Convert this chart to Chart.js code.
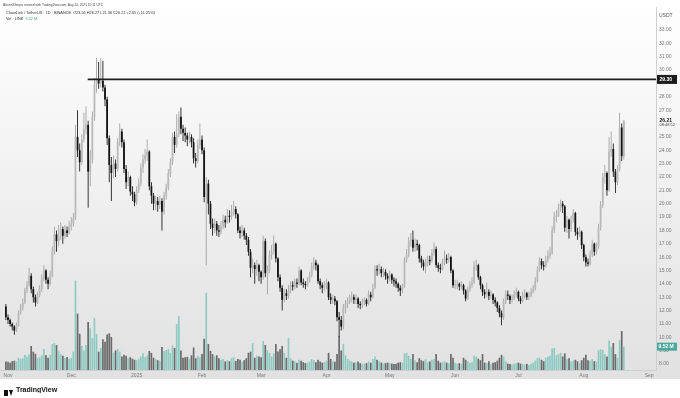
<!DOCTYPE html>
<html>
<head>
<meta charset="utf-8">
<script src="https://cdn.jsdelivr.net/npm/chart.js@4.4.1/dist/chart.umd.min.js"></script>
<style>
html,body{margin:0;padding:0;background:#fff;}
#wrap{position:relative;width:680px;height:398px;overflow:hidden;}
#c{position:absolute;left:0;top:0;}
.t{position:absolute;white-space:nowrap;font-family:"Liberation Sans",Arial,sans-serif;transform-origin:0 0;z-index:2;line-height:1.15;}
.logo{position:absolute;left:4px;top:385px;z-index:2;display:flex;align-items:center;}
.mk1{width:4px;height:6px;background:#111;margin-right:1px;}
.mk2{width:0;height:0;border-left:2.5px solid transparent;border-right:2.5px solid transparent;border-top:6px solid #111;margin-right:3px;}
</style>
</head>
<body>
<div id="wrap">
<canvas id="c" width="680" height="398"></canvas>
<div class="t" style="left:3px;top:2.6px;font-size:8px;transform:scale(0.4);color:#444;">AltcoinSherpa created with TradingView.com, Aug 20, 2025 15:11 UTC</div>
<div class="t" style="left:6px;top:11.4px;font-size:8px;transform:scale(0.48);color:#333;">ChainLink / TetherUS · 1D · BINANCE &nbsp;O23.56 H26.27 L21.36 C26.21 +2.65 (+11.25%)</div>
<div class="t" style="left:6px;top:16.9px;font-size:8px;transform:scale(0.48);color:#333;">Vol · LINK &nbsp;<span style="color:#3f9e93">9.52 M</span></div>
<div class="t" style="left:659px;top:12px;font-size:10px;transform:scale(0.5);color:#555;">USDT</div>
<div class="logo"><div class="mk1"></div><div class="mk2"></div><div class="t" style="position:relative;font-size:14px;transform:scale(0.5);font-weight:bold;color:#111;">TradingView</div></div>
</div>
<script>
// ---- data (daily candles, LINK/USDT) ----
const firstDay = -1;            // day index of first candle (Nov 1 2024 = 0)
const firstOpen = 12.3;
const closes = [
 11.5,
 11.3,11.0,10.8,10.5,10.9,11.8,12.2,12.6,13.5,13.9, 14.6,13.6,13.0,12.6,13.1,13.6,14.4,15.0,14.3,14.0, 14.6,16.4,17.7,17.2,17.6,18.1,17.6,18.0,17.8,18.3,
 18.5,18.9,25.0,24.0,23.1,24.8,25.6,25.9,22.4,23.3, 26.5,28.9,29.3,29.0,29.2,28.7,27.8,24.9,22.9,22.3, 23.0,22.6,24.6,25.4,24.6,22.6,21.6,22.0,20.9,20.7, 20.1,
 21.0,21.5,22.7,23.3,23.6,23.9,21.3,20.6,20.0,20.2, 19.9,20.2,19.4,20.6,21.2,22.3,23.1,25.0,24.4,25.2, 26.5,25.6,25.3,25.1,24.8,25.0,24.6,23.4,23.2,24.4, 24.8,
 24.0,20.5,21.5,20.0,18.5,18.2,18.5,18.0,17.9,18.3, 18.8,18.6,19.1,19.0,19.4,19.6,19.2,18.0,17.8,18.0, 17.6,17.3,16.4,15.2,15.4,15.1,15.4,14.9,
 14.5,17.2,14.8,15.0,16.2,16.4,17.0,15.9,14.5,13.7, 12.8,13.3,13.1,13.5,13.9,13.8,14.1,14.0,15.0,14.1, 14.0,13.9,14.2,14.6,15.3,15.6,15.4,14.2,13.9,13.7, 13.9,
 14.1,13.0,12.8,12.9,12.7,11.5,11.3,10.8,12.2,12.5, 12.7,12.9,13.0,12.8,12.9,12.5,12.4,12.6,12.8,12.5, 13.2,13.0,13.7,15.1,15.0,15.1,14.8,14.9,14.6,14.4,
 14.7,14.3,14.2,14.0,13.7,13.5,13.8,15.8,16.2,17.2, 17.3,16.7,17.0,16.9,15.9,15.6,15.3,15.6,15.8,15.7, 16.3,16.6,15.4,15.2,15.1,15.6,15.9,15.8,16.0,15.0, 13.9,
 13.9,14.0,13.8,13.9,13.5,12.9,13.6,13.9,14.1,15.3, 15.4,14.5,13.9,13.4,13.2,13.4,13.1,13.2,12.8,12.6, 12.2,11.8,11.5,12.7,13.2,13.1,12.8,12.9,13.2,13.4,
 12.9,12.7,13.1,13.3,13.0,13.1,13.4,13.6,14.2,15.0, 15.7,15.4,15.3,15.8,16.1,16.3,18.0,19.0,19.1,19.7, 20.0,19.8,18.2,18.8,18.1,18.8,19.3,17.9,17.7,17.9, 16.9,
 16.0,15.6,15.5,16.2,17.0,16.4,16.8,18.2,19.9,22.0, 22.3,21.0,23.9,24.1,22.4,21.6,22.6,25.7,23.56,26.21
];
const highs = [
 12.5,
 11.7,11.4,11.1,10.9,11.1,12.0,12.5,12.9,13.7,14.2, 15.2,14.8,13.8,13.2,13.4,13.9,14.7,15.4,15.1,14.5, 15.0,16.8,18.3,18.0,18.4,18.6,18.3,18.4,18.3,18.7,
 19.0,19.3,25.9,27.0,24.5,25.2,26.8,27.3,26.2,24.0, 26.9,29.4,30.9,30.6,30.9,30.7,28.9,28.0,25.1,23.5, 23.6,23.3,24.9,26.0,25.6,24.8,22.9,22.4,22.1,21.3, 20.9,
 21.3,21.9,23.0,23.7,24.1,24.8,24.0,21.6,20.8,20.6, 20.5,20.6,20.4,20.9,21.5,22.6,23.4,25.3,25.4,26.7, 26.9,27.2,25.9,25.7,25.3,25.4,25.2,24.9,23.8,24.8, 26.0,
 25.1,24.2,22.0,21.8,20.2,18.9,18.9,18.7,18.4,18.7, 19.2,19.1,19.6,19.5,19.9,20.2,19.8,19.3,18.3,18.4, 18.2,17.8,17.5,16.6,15.9,15.6,15.8,15.5,
 15.0,17.6,17.4,15.4,16.5,16.9,17.6,17.1,16.0,14.7, 13.9,13.6,13.6,13.9,14.2,14.2,14.4,14.4,15.3,15.1, 14.4,14.2,14.5,14.9,15.6,16.0,15.8,15.5,14.4,14.1, 14.2,
 14.4,14.2,13.3,13.2,13.1,12.8,11.9,11.6,12.5,12.8, 13.0,13.2,13.4,13.2,13.2,13.0,12.7,12.9,13.0,12.9, 13.5,13.4,14.0,15.4,15.4,15.5,15.3,15.2,15.1,14.8,
 15.0,14.8,14.5,14.4,14.1,13.9,14.0,16.0,16.6,17.5, 17.8,18.0,17.4,17.3,17.0,16.1,15.8,15.9,16.1,16.1, 16.6,17.1,16.8,15.6,15.5,15.9,16.5,16.2,16.3,16.1, 15.1,
 14.3,14.3,14.1,14.2,14.0,13.6,13.8,14.2,14.5,15.7, 15.8,15.5,14.6,14.0,13.6,14.1,13.6,13.5,13.3,13.0, 12.7,12.4,12.0,12.9,13.5,13.5,13.2,13.2,13.5,13.7,
 13.5,13.1,13.4,13.6,13.4,13.4,13.7,13.9,14.5,15.3, 16.0,15.9,15.7,16.1,16.5,16.8,18.3,19.4,19.5,20.0, 20.3,20.2,19.9,19.1,18.9,19.1,19.6,19.4,18.2,18.3, 18.0,
 17.0,16.2,15.9,16.5,17.3,17.1,17.1,18.5,20.2,22.3, 22.9,22.4,25.0,25.4,24.5,22.6,22.9,26.8,26.0,26.27
];
const lows = [
 11.3,
 11.0,10.8,10.5,10.2,10.4,10.8,11.7,12.0,12.5,13.3, 13.8,13.3,12.6,12.3,12.5,13.0,13.4,14.2,14.0,13.6, 13.9,14.5,16.2,16.4,16.8,17.3,17.0,17.4,17.5,17.7,
 18.0,18.3,18.8,23.5,22.4,22.9,24.6,25.2,19.7,21.3, 23.0,26.2,28.3,28.6,28.7,28.4,27.3,24.4,21.6,20.2, 21.9,22.0,22.4,24.3,24.2,22.3,21.1,21.3,20.6,20.2, 19.8,
 19.9,20.8,21.3,22.3,23.0,23.2,21.0,20.0,19.5,19.5, 19.4,19.6,18.0,19.2,20.3,21.0,22.0,22.9,23.8,24.2, 25.0,25.2,24.7,24.6,24.3,24.5,24.2,23.0,22.7,23.0, 24.1,
 23.7,20.1,15.4,19.2,18.1,17.6,17.8,17.6,17.5,17.7, 18.1,18.2,18.5,18.6,18.8,19.1,18.9,17.8,17.4,17.5, 17.3,16.9,16.1,14.5,14.8,14.0,14.6,14.2,
 14.0,14.3,14.5,13.2,14.8,15.8,16.2,15.6,14.2,13.4, 12.0,12.6,12.8,12.9,13.3,13.5,13.6,13.7,13.9,13.9, 13.7,13.6,13.8,14.1,14.5,15.1,15.0,14.0,13.6,13.3, 13.5,
 13.6,12.8,12.5,12.5,12.4,11.2,10.0,10.5,10.6,11.8, 12.2,12.5,12.6,12.5,12.5,12.2,12.1,12.2,12.4,12.3, 12.4,12.7,12.9,13.6,14.6,14.7,14.5,14.5,14.3,14.0,
 14.2,14.0,13.8,13.7,13.4,13.1,13.3,13.7,15.6,16.0, 16.8,16.4,16.4,16.5,15.6,15.2,15.0,14.8,15.3,15.4, 15.6,16.1,15.2,14.9,14.8,15.0,15.4,15.5,15.6,14.8, 13.7,
 13.6,13.6,13.5,13.6,13.2,12.7,12.8,13.4,13.7,14.0, 15.0,14.3,13.6,13.1,12.9,13.0,12.8,12.9,12.5,12.3, 11.9,11.5,10.9,11.3,12.5,12.8,12.5,12.6,12.8,13.0,
 12.7,12.5,12.6,12.9,12.8,12.8,13.0,13.3,13.5,14.1, 14.9,15.1,15.0,15.2,15.6,15.9,16.2,17.8,18.6,19.0, 19.4,19.3,17.9,17.8,17.4,17.9,18.6,17.6,17.3,17.5, 16.6,
 15.7,15.3,15.3,15.4,16.0,16.1,16.2,16.6,18.0,19.7, 21.5,20.6,20.9,23.5,22.0,20.8,21.4,22.4,23.2,23.3
];
const volumes = [   // millions of LINK
 3.5,
 3.4,3.0,3.6,3.8,3.5,5.0,4.5,4.8,6.2,5.5, 6.4,9.8,7.5,6.6,4.8,5.2,5.9,8.6,6.0,5.0, 6.2,10.6,11.0,10.2,7.8,6.5,5.8,4.9,5.3,4.6,
 5.0,7.5,36.5,23.0,14.8,9.8,8.0,10.2,19.6,17.0, 13.0,21.2,14.7,7.5,9.0,12.6,11.5,14.5,15.0,13.5, 7.0,8.0,8.6,7.5,5.5,6.2,5.8,4.9,5.2,4.6, 4.2,
 4.0,4.6,5.5,6.8,5.2,6.0,7.8,7.0,5.0,4.5, 4.0,3.8,9.4,7.8,8.2,8.6,7.0,10.0,9.0,18.8, 22.0,8.0,5.0,5.2,5.4,4.6,6.0,9.2,4.8,5.8, 5.2,
 6.5,12.8,31.5,10.6,7.8,6.5,5.5,6.0,4.8,4.2, 4.5,3.5,4.0,3.6,4.8,5.2,3.7,4.5,4.2,3.3, 4.0,4.8,7.0,7.5,11.0,5.0,5.8,5.5,
 5.2,11.8,10.2,8.0,7.0,5.5,6.8,10.6,7.6,8.5, 9.8,7.0,5.0,13.0,4.8,3.8,3.5,3.0,4.2,3.8, 3.2,2.8,3.0,3.5,4.5,4.0,3.2,4.2,3.5,3.0, 3.2,
 3.8,7.0,4.5,3.6,3.4,6.5,13.8,8.0,10.6,6.0, 4.5,3.8,3.5,3.0,3.2,3.5,2.8,2.5,2.6,2.8, 3.5,3.0,4.5,5.5,4.2,3.6,3.0,2.6,2.8,3.0,
 2.8,2.6,2.5,2.6,3.0,3.2,3.0,6.8,7.0,5.8, 4.5,6.5,4.0,3.2,4.8,4.0,3.6,4.4,3.2,3.5, 4.2,4.5,6.5,3.8,3.0,3.2,3.6,3.0,2.8,6.5, 5.0,
 3.0,2.6,2.8,2.5,5.0,4.2,3.6,3.0,3.2,5.8, 5.5,4.6,4.0,6.5,3.0,2.8,3.6,2.4,3.0,3.2, 3.8,5.0,6.2,5.5,3.5,2.6,2.4,2.2,2.6,2.8,
 3.0,2.6,2.4,2.2,2.5,2.0,2.6,3.0,3.8,4.8, 5.0,4.2,3.6,5.0,5.5,5.8,8.8,9.0,6.0,6.5, 7.0,5.5,6.8,4.5,4.8,3.5,3.8,4.2,3.6,3.0, 4.0,
 5.0,6.2,4.0,3.8,4.5,3.6,3.5,8.0,8.5,8.2, 6.5,5.5,12.0,9.5,11.0,6.5,5.0,12.2,15.9,9.52
];
const monthTickDays   = [0, 30, 61, 92, 120, 151, 181, 212, 242, 273, 304];
const monthTickLabels = ['Nov','Dec','2025','Feb','Mar','Apr','May','Jun','Jul','Aug','Sep'];
const priceTicks = [8,9,10,11,12,13,14,15,16,17,18,19,20,21,22,23,24,25,27,28,30,31,32,33];
const resistanceLevel = 29.30;
const resistanceFromDay = 37.8;
const countdownText = '08:48:52';

// ---- derived table ----
const days  = closes.map((_, i) => firstDay + i);
const opens = closes.map((c, i) => i === 0 ? firstOpen : closes[i - 1]);
const up    = closes.map((c, i) => c >= opens[i]);
const last  = closes.length - 1;

const X_MIN = -3.79, X_MAX = 307.25;
const UP_BODY = '#b9b9b9', UP_WICK = '#a0a0a0', DN = '#141414';
const VOL_UP = '#8fcac2', VOL_DN = '#6a6a6a';

const bgPlugin = {
  id: 'bg',
  beforeDraw(chart) {
    const ctx = chart.ctx;
    ctx.save();
    const g = ctx.createLinearGradient(0, 0, 0, 379);
    g.addColorStop(0, '#ffffff');
    g.addColorStop(1, '#e1e1e1');
    ctx.fillStyle = g;
    ctx.fillRect(0, 0, 680, 379);
    ctx.fillStyle = '#ffffff';
    ctx.fillRect(0, 379, 680, 19);
    ctx.restore();
  }
};

const labelPlugin = {
  id: 'labels',
  afterDraw(chart) {
    const ctx = chart.ctx;
    const ys = chart.scales.y, yv = chart.scales.yv;
    ctx.save();
    ctx.textBaseline = 'middle';
    let y = ys.getPixelForValue(resistanceLevel);
    ctx.fillStyle = '#1c1c1c';
    ctx.fillRect(657, y - 4.5, 20, 9);
    ctx.fillStyle = '#ffffff';
    ctx.font = 'bold 5px "Liberation Sans", Arial';
    ctx.fillText(resistanceLevel.toFixed(2), 659.5, y + 0.3);
    y = ys.getPixelForValue(closes[last]);
    ctx.fillStyle = '#222';
    ctx.font = 'bold 5px "Liberation Sans", Arial';
    ctx.fillText(closes[last].toFixed(2), 659.5, y);
    ctx.font = '4px "Liberation Sans", Arial';
    ctx.fillStyle = '#444';
    ctx.fillText(countdownText, 659.5, y + 4.5);
    y = yv.getPixelForValue(volumes[last]);
    ctx.fillStyle = '#48a99d';
    ctx.fillRect(657, y - 4, 20, 8);
    ctx.fillStyle = '#ffffff';
    ctx.font = 'bold 5px "Liberation Sans", Arial';
    ctx.fillText(volumes[last].toFixed(2) + ' M', 658.5, y + 0.3);
    ctx.restore();
  }
};

new Chart(document.getElementById('c'), {
  type: 'bar',
  data: {
    datasets: [
      {
        type: 'line', label: 'level', order: 0, yAxisID: 'y',
        data: [{x: resistanceFromDay, y: resistanceLevel}, {x: X_MAX, y: resistanceLevel}],
        borderColor: '#1e1e1e', borderWidth: 1.7, pointRadius: 0, fill: false
      },
      {
        label: 'body', order: 1, yAxisID: 'y', grouped: false,
        data: days.map((d, i) => ({x: d, y: [opens[i], closes[i]]})),
        backgroundColor: up.map(u => u ? UP_BODY : DN),
        barPercentage: 0.85, categoryPercentage: 1, minBarLength: 1
      },
      {
        label: 'wick', order: 2, yAxisID: 'y', grouped: false,
        data: days.map((d, i) => ({x: d, y: [lows[i], highs[i]]})),
        backgroundColor: up.map(u => u ? UP_WICK : DN),
        barPercentage: 0.4, categoryPercentage: 1
      },
      {
        label: 'volume', order: 3, yAxisID: 'yv', grouped: false,
        data: days.map((d, i) => ({x: d, y: volumes[i]})),
        backgroundColor: up.map(u => u ? VOL_UP : VOL_DN),
        barPercentage: 0.8, categoryPercentage: 1
      }
    ]
  },
  options: {
    responsive: false, animation: false, devicePixelRatio: 1,
    layout: {padding: {left: 0, right: 0, top: 7, bottom: 0}},
    plugins: {legend: {display: false}, tooltip: {enabled: false}},
    scales: {
      x: {
        type: 'linear', min: X_MIN, max: X_MAX, offset: false,
        grid: {display: false, drawTicks: false},
        border: {display: true, color: '#cfcfcf', width: 1},
        ticks: {autoSkip: false, maxRotation: 0, padding: 3, color: '#777',
                font: {size: 5, family: '"Liberation Sans", Arial'},
                callback: (v, i) => monthTickLabels[i]},
        afterBuildTicks: s => { s.ticks = monthTickDays.map(v => ({value: v})); },
        afterFit: s => { s.height = 28; }
      },
      y: {
        position: 'right', min: 7.553, max: 34.72,
        grid: {display: false, drawTicks: false},
        border: {display: true, color: '#cfcfcf', width: 1},
        ticks: {padding: 3, color: '#7a7a7a', font: {size: 5, family: '"Liberation Sans", Arial'},
                callback: v => Number(v).toFixed(2)},
        afterBuildTicks: s => { s.ticks = priceTicks.map(v => ({value: v})); },
        afterFit: s => { s.width = 24; }
      },
      yv: {display: false, min: 0, max: 148.2}
    }
  },
  plugins: [bgPlugin, labelPlugin]
});
</script>
</body>
</html>
